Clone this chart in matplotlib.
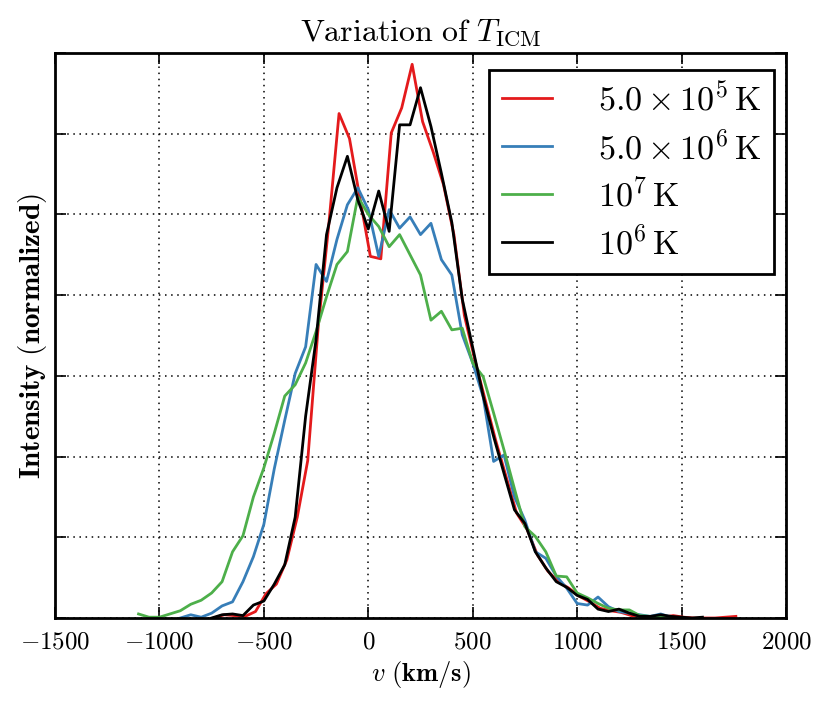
import numpy as np
import matplotlib
matplotlib.use('Agg')
import matplotlib.pyplot as plt
from matplotlib.ticker import FuncFormatter, MultipleLocator

plt.rcParams['mathtext.fontset'] = 'cm'
plt.rcParams['font.family'] = 'serif'

# velocity bins (km/s) and normalised intensities
v_red = np.arange(-740, 1761, 50)
i_red = [0.00, 0.04, 0.03, 0.02, 0.08, 0.30, 0.42, 0.72, 1.25, 1.95,
         3.60, 4.85, 6.25, 5.94, 5.20, 4.48, 4.45, 6.01, 6.32, 6.86,
         6.15, 5.78, 5.37, 4.75, 3.75, 3.20, 2.70, 2.20, 1.75, 1.30,
         1.10, 0.78, 0.58, 0.45, 0.37, 0.27, 0.20, 0.12, 0.09, 0.07,
         0.03, 0.02, 0.02, 0.01, 0.03, 0.01, 0.00, 0.00, 0.00, 0.01,
         0.02]

v_blue = np.arange(-900, 1501, 50)
i_blue = [0.00, 0.04, 0.01, 0.06, 0.15, 0.20, 0.45, 0.76, 1.16, 1.85,
          2.45, 3.03, 3.36, 4.38, 4.17, 4.69, 5.12, 5.33, 5.06, 4.48,
          5.06, 4.83, 4.97, 4.75, 4.89, 4.44, 4.25, 3.51, 3.16, 2.74,
          1.94, 2.02, 1.50, 1.21, 0.82, 0.74, 0.52, 0.37, 0.18, 0.16,
          0.26, 0.14, 0.08, 0.06, 0.04, 0.02, 0.05, 0.01, 0.00]

v_green = np.arange(-1100, 1501, 50)
i_green = [0.05, 0.01, 0.01, 0.05, 0.09, 0.17, 0.22, 0.31, 0.45, 0.82,
           1.02, 1.50, 1.86, 2.29, 2.75, 2.89, 3.16, 3.55, 3.98, 4.38,
           4.54, 5.22, 5.00, 4.85, 4.60, 4.75, 4.50, 4.25, 3.69, 3.80,
           3.57, 3.59, 3.16, 2.99, 2.54, 2.08, 1.60, 1.13, 1.01, 0.82,
           0.52, 0.51, 0.31, 0.25, 0.18, 0.12, 0.10, 0.10, 0.03, 0.02,
           0.01, 0.00, 0.00]

v_black = np.arange(-750, 1601, 50)
i_black = [0.00, 0.04, 0.05, 0.03, 0.16, 0.21, 0.42, 0.66, 1.25, 2.50,
           3.45, 4.75, 5.33, 5.72, 5.18, 4.82, 5.29, 4.79, 6.11, 6.11,
           6.57, 6.09, 5.51, 4.90, 3.95, 3.35, 2.75, 2.25, 1.79, 1.34,
           1.17, 0.82, 0.62, 0.45, 0.38, 0.28, 0.23, 0.11, 0.08, 0.11,
           0.06, 0.02, 0.02, 0.04, 0.02, 0.01, 0.00, 0.01]

labels = [r'$5.0\times10^{5}\,\mathrm{K}$', r'$5.0\times10^{6}\,\mathrm{K}$',
          r'$10^{7}\,\mathrm{K}$', r'$10^{6}\,\mathrm{K}$']
colors = ['#e41a1c', '#377eb8', '#4daf4a', 'black']

fig = plt.figure(figsize=(8.3, 7.09), dpi=100)
ax = fig.add_axes([55/830, 1 - 618/709, 731/830, 565/709])

series = [(v_red, i_red), (v_blue, i_blue), (v_green, i_green), (v_black, i_black)]
for (v, inten), c, lab in zip(series, colors, labels):
    ax.plot(v, inten, color=c, lw=2.0, label=lab)

ax.set_xlim(-1500, 2000)
ax.set_ylim(0, 7)
ax.xaxis.set_major_locator(MultipleLocator(500))
ax.yaxis.set_major_locator(MultipleLocator(1))
ax.xaxis.set_major_formatter(FuncFormatter(lambda x, p: r'$%d$' % x))
ax.yaxis.set_major_formatter(FuncFormatter(lambda y, p: ''))
ax.tick_params(direction='in', length=8, width=1.2, top=True, right=True,
               labelsize=18, pad=9)
ax.grid(True, color='black', linestyle=(0, (1, 3)), linewidth=1.1)
for s in ax.spines.values():
    s.set_linewidth(2)

ax.set_xlabel(r'$v\ \mathbf{(km/s)}$', fontsize=19, labelpad=4)
ax.set_ylabel(r'$\mathbf{Intensity\ (normalized)}$', fontsize=21, labelpad=-5)
ax.set_title(r'$\mathrm{Variation\ of}\ T_{\mathrm{ICM}}$', fontsize=23, pad=9)

leg = ax.legend(loc='upper right', bbox_to_anchor=(0.9836, 0.970),
                fontsize=24.5, fancybox=False, framealpha=1,
                edgecolor='black', handlelength=1.47, handletextpad=1.35,
                borderpad=0.38, borderaxespad=0, labelspacing=0.38)
leg.get_frame().set_linewidth(2)

fig.savefig('out.png', dpi=100)
